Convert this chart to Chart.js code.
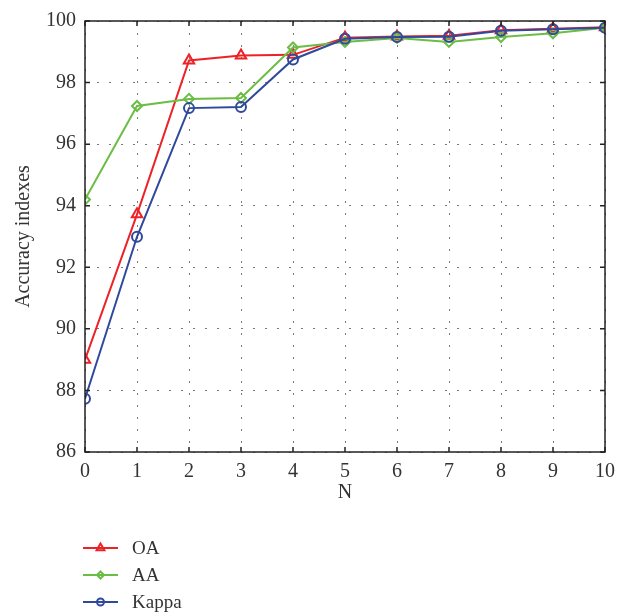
<!DOCTYPE html>
<html>
<head>
<meta charset="utf-8">
<script src="https://cdn.jsdelivr.net/npm/chart.js@4.4.0/dist/chart.umd.min.js"></script>
<style>
    html, body { margin: 0; padding: 0; background: #fff; }
</style>
</head>
<body>
<canvas id="chart1" width="629" height="614"></canvas>
<script>
// data
const nValues = [0, 1, 2, 3, 4, 5, 6, 7, 8, 9, 10];
const oaValues = [89.0, 93.72, 98.72, 98.88, 98.9, 99.46, 99.5, 99.52, 99.7, 99.75, 99.8];
const aaValues = [94.2, 97.24, 97.47, 97.5, 99.14, 99.32, 99.45, 99.32, 99.48, 99.6, 99.78];
const kappaValues = [87.73, 92.99, 97.17, 97.21, 98.75, 99.42, 99.48, 99.49, 99.68, 99.73, 99.78];
const seriesNames = ['OA', 'AA', 'Kappa'];
const yTicks = [86, 88, 90, 92, 94, 96, 98, 100];

const FONT = "'Liberation Serif', 'DejaVu Serif', serif";
const colors = ['#ec2227', '#6cbd45', '#2f4a9c'];
const markers = ['triangle', 'rectRot', 'circle'];
const radii = [6, 5, 5];

function toPoints(vals) {
    return vals.map((v, i) => ({ x: nValues[i], y: v }));
}

const allValues = [oaValues, aaValues, kappaValues];
const datasets = allValues.map((vals, i) => ({
    label: seriesNames[i],
    data: toPoints(vals),
    borderColor: colors[i],
    backgroundColor: 'rgba(0,0,0,0)',
    borderWidth: 2,
    pointStyle: markers[i],
    pointRadius: radii[i],
    pointBorderWidth: 2,
    pointBackgroundColor: 'rgba(0,0,0,0)',
    pointBorderColor: colors[i],
    tension: 0,
    order: 2 - i
}));

// frame with inward ticks + legend under the plot
const framePlugin = {
    id: 'frame',
    afterDraw(chart) {
        const ctx = chart.ctx;
        const a = chart.chartArea;
        const xs = chart.scales.x, ys = chart.scales.y;
        ctx.save();
        ctx.strokeStyle = '#222';
        ctx.lineWidth = 1.5;
        ctx.strokeRect(a.left, a.top, a.right - a.left, a.bottom - a.top);
        ctx.beginPath();
        ys.ticks.forEach(t => {
            const y = ys.getPixelForValue(t.value);
            ctx.moveTo(a.left, y); ctx.lineTo(a.left + 5, y);
            ctx.moveTo(a.right, y); ctx.lineTo(a.right - 5, y);
        });
        xs.ticks.forEach(t => {
            const x = xs.getPixelForValue(t.value);
            ctx.moveTo(x, a.bottom); ctx.lineTo(x, a.bottom - 5);
            ctx.moveTo(x, a.top); ctx.lineTo(x, a.top + 5);
        });
        ctx.stroke();

        // legend
        ctx.font = '19px ' + FONT;
        ctx.textBaseline = 'middle';
        ctx.textAlign = 'left';
        chart.data.datasets.forEach((ds, i) => {
            const y = 548 + i * 27;
            ctx.strokeStyle = ds.borderColor;
            ctx.lineWidth = 2;
            ctx.beginPath();
            ctx.moveTo(83, y); ctx.lineTo(118, y);
            ctx.stroke();
            ctx.fillStyle = 'rgba(0,0,0,0)';
            Chart.helpers.drawPoint(ctx, { pointStyle: ds.pointStyle, radius: ds.pointRadius - 1.5, rotation: 0, borderWidth: 2 }, 100.5, y);
            ctx.fillStyle = '#333';
            ctx.fillText(ds.label, 132, y + 1);
        });
        ctx.restore();
    }
};

const ctx1 = document.getElementById('chart1').getContext('2d');
const chart1 = new Chart(ctx1, {
    type: 'line',
    data: { datasets: datasets },
    options: {
        responsive: false,
        animation: false,
        layout: { padding: { top: 16, right: 24, bottom: 107, left: 0 } },
        plugins: { legend: { display: false }, tooltip: { enabled: false } },
        scales: {
            x: {
                type: 'linear',
                min: 0, max: 10,
                afterFit: s => { s.height = 55; },
                afterBuildTicks: s => { s.ticks = nValues.map(v => ({ value: v })); },
                ticks: { padding: 8, color: '#333', font: { family: FONT, size: 20 } },
                grid: { color: '#7a7a7a', lineWidth: 1, drawTicks: false },
                border: { display: false, dash: [2, 10] },
                title: { display: true, text: 'N', color: '#333', font: { family: FONT, size: 20 }, padding: { top: 0, bottom: 2 } }
            },
            y: {
                min: 86, max: 100,
                afterFit: s => { s.width = 85; },
                afterBuildTicks: s => { s.ticks = yTicks.map(v => ({ value: v })); },
                ticks: { padding: 9, color: '#333', font: { family: FONT, size: 20 } },
                grid: { color: '#7a7a7a', lineWidth: 1, drawTicks: false },
                border: { display: false, dash: [2, 10] },
                title: { display: true, text: 'Accuracy indexes', color: '#333', font: { family: FONT, size: 20 }, padding: { top: 12, bottom: 0 } }
            }
        }
    },
    plugins: [framePlugin]
});
</script>
</body>
</html>
